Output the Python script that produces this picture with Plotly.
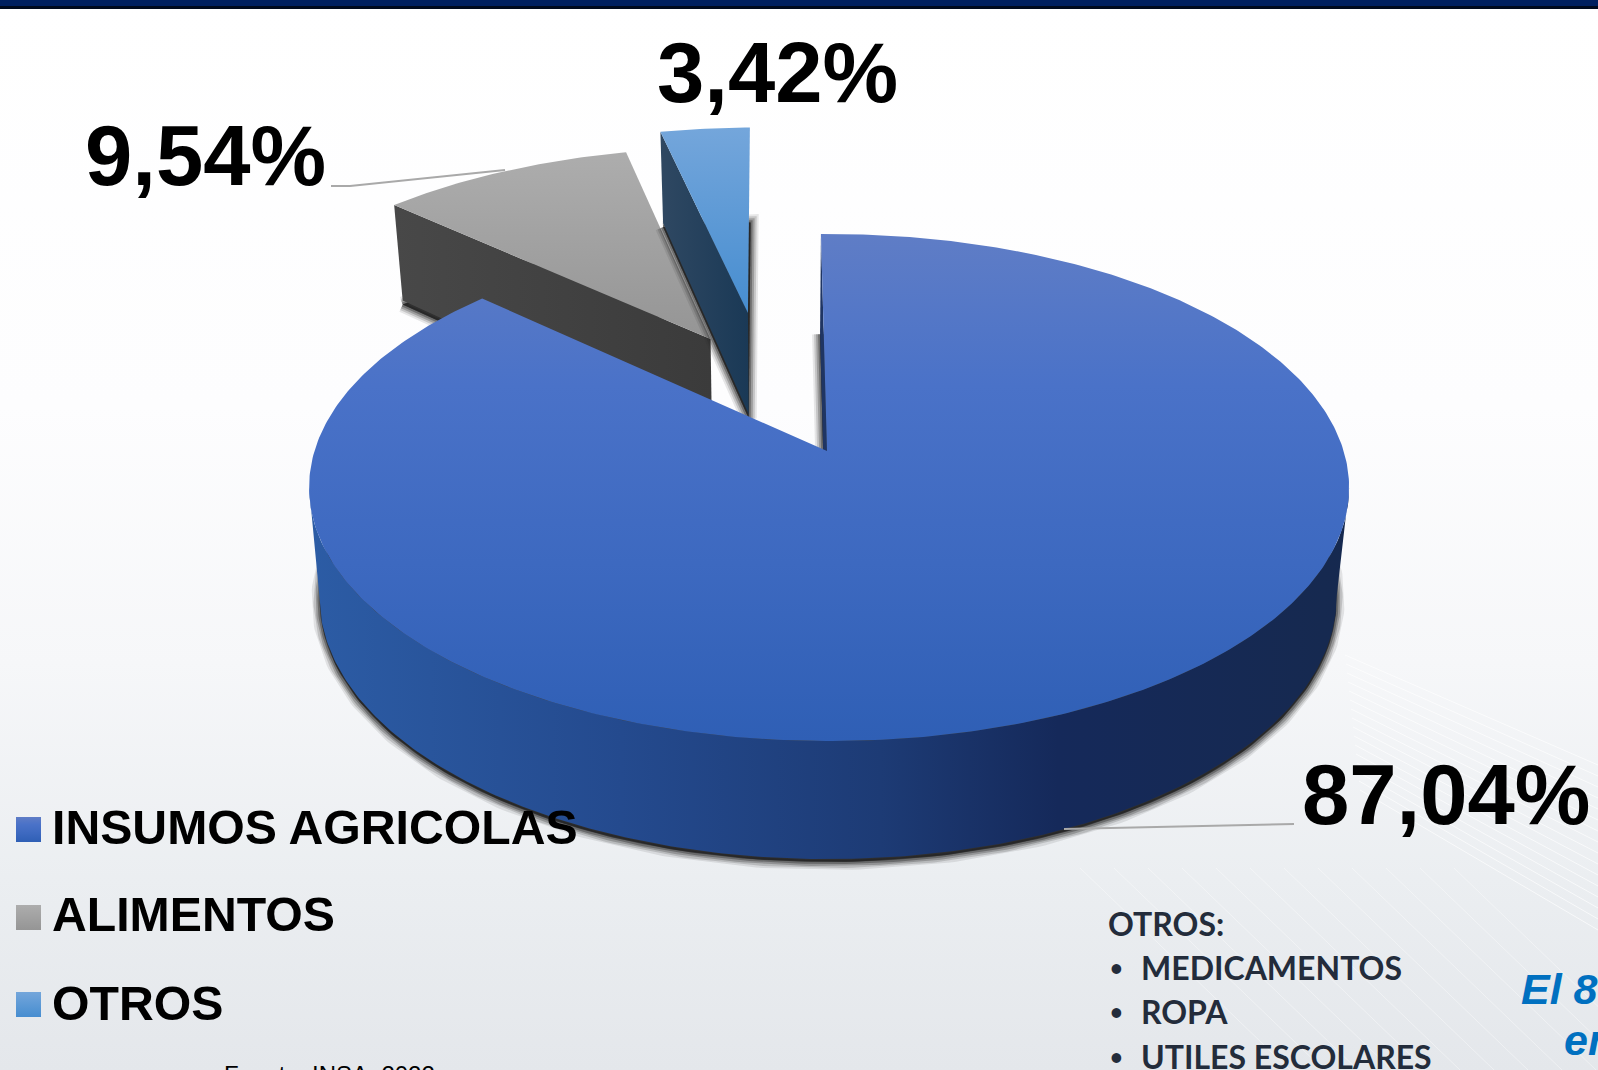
import math
import plotly.graph_objects as go

categories = ["INSUMOS AGRICOLAS", "ALIMENTOS", "OTROS"]
values = [87.04, 9.54, 3.42]
value_labels = ["87,04%", "9,54%", "3,42%"]
otros_title = "OTROS:"
otros_items = ["MEDICAMENTOS", "ROPA", "UTILES ESCOLARES"]
source_text = "Fuente: INSA, 2022"
side_text = ["El 8", "en"]

W, H = 1598, 1070
CX, CY = 827, 451      # pie pivot in picture
A, B, K = 248.3, 514.6, 0.144   # tilt / perspective
BX, S = 826, 0.978     # lower plane of the pie
DEPTH0, DEPTH1 = 107.6, 10.4
ROT = -1.0
RIM_SHIFT = [(0.004, 0), (-0.242, -0.482), (-0.167, -0.604)]
APEX = [(0, 0), (-0.242, -0.482), (-0.167, -0.604)]

TOP_GRAD = [
    [[0, "#5f7dc6"], [0.3, "#4a72c8"], [0.65, "#3d69c0"], [1, "#2f5fb5"]],
    [[0, "#adadad"], [1, "#959595"]],
    [[0, "#74a6db"], [1, "#468dd0"]],
]
WALL_GRAD = [
    [[0, "#2c5ca5"], [0.3, "#244a8e"], [0.55, "#1d3b75"], [0.72, "#15295a"], [1, "#16294f"]],
    [[0, "#484848"], [1, "#3b3b3b"]],
    [[0, "#2f4862"], [1, "#1a3956"]],
]
SHADOW = [(16, 0.10), (12, 0.16), (8, 0.24), (4, 0.34)]
SANS = "Liberation Sans"


def project(X, Y):
    den = 1 - K * Y
    return CX + B * X / den, CY + A * Y / den


def drop(X, Y):
    x, y = project(X, Y)
    return BX + S * (x - CX), y + DEPTH0 + DEPTH1 * Y


def plane(theta, off):
    t = math.radians(theta)
    return off[0] + math.sin(t), off[1] - math.cos(t)


def arc(t0, t1, off, fn):
    n = max(2, int(abs(t1 - t0) * 1.5))
    return [fn(*plane(t0 + (t1 - t0) * i / n, off)) for i in range(n + 1)]


def xy(pts):
    return [p[0] for p in pts], [p[1] for p in pts]


fig = go.Figure()


def poly(pts, grad=None, orient="vertical", start=None, stop=None, color=None, line=None):
    x, y = xy(pts + pts[:1])
    kw = {}
    if grad is not None:
        kw["fillgradient"] = dict(type=orient, colorscale=grad, start=start, stop=stop)
    else:
        kw["fillcolor"] = color
    ln = line if line else dict(width=0)
    fig.add_trace(go.Scatter(x=x, y=y, mode="lines", fill="toself", line=ln,
                             hoverinfo="skip", showlegend=False, **kw))


def shadow(pts, dy=0.0):
    pts = [(a, b + dy) for a, b in pts]
    for w, al in SHADOW:
        poly(pts, color="rgba(25,25,25,0.35)", line=dict(width=w, color=f"rgba(25,25,25,{al})"))


# page background
poly([(0, 0), (W, 0), (W, H), (0, H)],
     grad=[[0, "#ffffff"], [0.38, "#fdfdfe"], [0.62, "#f6f7f9"], [0.82, "#ebeef1"], [1, "#e4e7eb"]],
     start=0, stop=H)

# angles from the values
total = sum(values)
edges = [ROT]
for v in values:
    edges.append(edges[-1] + 360 * v / total)

# exploded slices behind the main one
for i in (1, 2):
    t0, t1 = edges[i], edges[i + 1]
    off = RIM_SHIFT[i]
    apex_top = project(*APEX[i])
    apex_low = drop(*APEX[i])
    rim_top = arc(t0, t1, off, project)
    rim_low = arc(t0, t1, off, drop)
    shadow(rim_low + [apex_low], dy=4)
    wall = [rim_top[0], apex_top, apex_low, rim_low[0]]
    wx = [p[0] for p in wall]
    poly(wall, grad=WALL_GRAD[i], orient="horizontal", start=min(wx), stop=max(wx))
    ty = [p[1] for p in rim_top + [apex_top]]
    poly(rim_top + [apex_top], grad=TOP_GRAD[i], start=min(ty), stop=max(ty))

# main slice
t0, t1 = edges[0], edges[1]
off = RIM_SHIFT[0]
apex_top = project(*APEX[0])
apex_low = drop(*APEX[0])
rim_top = arc(t0, t1, off, project)
rim_low = arc(t0, t1, off, drop)
shadow(rim_low + [apex_low], dy=3)

side = [rim_top[0], apex_top, apex_low, rim_low[0]]
poly(side, color="#1f3563")

ext = math.degrees(math.acos(-K))
front_top = arc(ext, 360 - ext, off, project)
front_low = arc(ext, 360 - ext, off, drop)
fx = [p[0] for p in front_top]
poly(front_top + front_low[::-1], grad=WALL_GRAD[0], orient="horizontal", start=min(fx), stop=max(fx))

ty = [p[1] for p in rim_top]
poly(rim_top + [apex_top], grad=TOP_GRAD[0], start=min(ty), stop=max(ty))

# legend swatches
SWATCH_Y = [817, 905, 992]
for i, yy in enumerate(SWATCH_Y):
    poly([(16, yy), (41, yy), (41, yy + 25), (16, yy + 25)], grad=TOP_GRAD[i], start=yy, stop=yy + 25)


def label(txt, x, y, size, family=SANS, color="#000000", bold=True, italic=False, xanchor="left", yanchor="middle"):
    t = f"<b>{txt}</b>" if bold else txt
    if italic:
        t = f"<i>{t}</i>"
    fig.add_annotation(x=x / W, y=1 - y / H, xref="paper", yref="paper", text=t, showarrow=False,
                       xanchor=xanchor, yanchor=yanchor, borderpad=0, borderwidth=0,
                       font=dict(family=family, size=size, color=color))


# value labels
for txt, (x, y) in zip(value_labels, [(1302, 794), (85, 156), (657, 72)]):
    label(txt, x, y, 85)

# legend labels
for txt, y in zip(categories, [827, 914, 1003]):
    label(txt, 52, y, 48.2)

# OTROS list
DARK = "#232c3b"
label(otros_title, 1108, 923, 32, family="Lato", color=DARK)
for txt, y in zip(otros_items, [967, 1011, 1056]):
    label("•", 1110, y, 22, family="Lato", color=DARK)
    label(txt, 1141, y, 32, family="Lato", color=DARK)

# cropped texts
BLUE = "#0070c0"
label(side_text[0], 1521, 989, 43, color=BLUE, italic=True)
label(side_text[1], 1564, 1040, 43, color=BLUE, italic=True)
label(source_text, 224, 1061, 24, bold=False, yanchor="top")

# faint streaks of the slide background
streaks = []
for n in range(16):
    streaks.append(dict(type="line", xref="x", yref="y", x0=1345 + n, y0=655 + 9 * n, x1=W, y1=765 + 11 * n,
                        line=dict(color="rgba(255,255,255,0.65)", width=1), layer="above"))
for n in range(12):
    streaks.append(dict(type="line", xref="x", yref="y", x0=1080 + 34 * n, y0=868, x1=1290 + 34 * n, y1=1070,
                        line=dict(color="rgba(255,255,255,0.4)", width=1), layer="above"))

shapes = streaks + [
    dict(type="rect", xref="x", yref="y", x0=0, x1=W, y0=0, y1=6, fillcolor="#002060", line_width=0),
    dict(type="rect", xref="x", yref="y", x0=0, x1=W, y0=6, y1=9, fillcolor="#000a1e", line_width=0),
    dict(type="path", xref="x", yref="y", path="M 331 186 L 350 186 L 505 170",
         line=dict(color="#a9a9a9", width=2)),
    dict(type="line", xref="x", yref="y", x0=1064, y0=829, x1=1294, y1=824,
         line=dict(color="#a9a9a9", width=2)),
]

fig.update_layout(
    width=W, height=H, margin=dict(l=0, r=0, t=0, b=0), showlegend=False,
    paper_bgcolor="#ffffff", plot_bgcolor="rgba(0,0,0,0)", shapes=shapes,
    xaxis=dict(range=[0, W], visible=False, fixedrange=True),
    yaxis=dict(range=[H, 0], visible=False, fixedrange=True),
)
fig.write_html("out.html", config={"displayModeBar": False},
               post_script="document.body.style.margin='0';document.body.style.overflow='hidden';")
